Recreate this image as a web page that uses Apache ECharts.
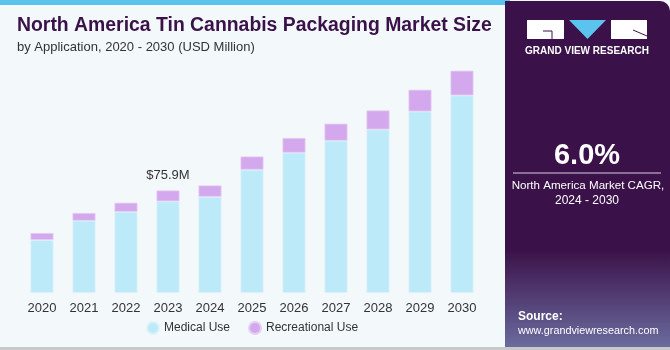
<!DOCTYPE html>
<html>
<head>
<meta charset="utf-8">
<script src="https://cdn.jsdelivr.net/npm/echarts@6/dist/echarts.min.js"></script>
<style>
  html, body { margin: 0; padding: 0; background: #f3f8fb; }
  #chart { width: 670px; height: 350px; }
</style>
</head>
<body>
<div id="chart"></div>
<script>
const years = ['2020', '2021', '2022', '2023', '2024', '2025', '2026', '2027', '2028', '2029', '2030']
const medicalUse = [39.2, 53.5, 60.1, 67.8, 71.2, 91.2, 103.8, 112.7, 121.0, 134.3, 146.2]
const recreationalUse = [5.2, 5.7, 6.7, 8.1, 8.4, 9.8, 10.9, 12.6, 14.1, 16.1, 18.3]
const labelYear = '2023'
const labelText = '$75.9M'

const purple = '#3a1249'
const chart = echarts.init(document.getElementById('chart'))

const option = {
  backgroundColor: '#f3f8fb',
  animation: false,
  textStyle: { fontFamily: 'Liberation Sans, Arial, sans-serif' },
  grid: { left: 21, right: 187, top: 60, bottom: 57 },
  legend: {
    data: ['Medical Use', 'Recreational Use'],
    bottom: 10,
    left: 141,
    icon: 'circle',
    itemWidth: 12,
    itemHeight: 12,
    itemGap: 18,
    textStyle: { fontSize: 12, color: '#333' }
  },
  xAxis: {
    type: 'category',
    data: years,
    axisLine: { show: false },
    axisTick: { show: false },
    axisLabel: { fontSize: 13, color: '#333', margin: 9 }
  },
  yAxis: {
    type: 'value',
    min: 0,
    max: 172.4,
    show: false,
    splitLine: { show: false }
  },
  series: [
    {
      name: 'Medical Use',
      type: 'bar',
      stack: 'total',
      barWidth: 23,
      itemStyle: { color: '#bdeaf9', borderColor: '#dcf3fb', borderWidth: 0.8 },
      data: medicalUse
    },
    {
      name: 'Recreational Use',
      type: 'bar',
      stack: 'total',
      barWidth: 23,
      itemStyle: { color: '#d4a8ec', borderColor: '#e6cdf5', borderWidth: 0.8 },
      label: {
        show: true,
        position: 'top',
        distance: 8,
        fontSize: 13,
        color: '#333',
        formatter: (p) => (p.name === labelYear ? labelText : '')
      },
      data: recreationalUse
    }
  ],
  graphic: [
    // top strip
    { type: 'rect', shape: { x: 0, y: 0, width: 510, height: 5 }, style: { fill: '#5bc4ee' } },
    // bottom line
    { type: 'rect', shape: { x: 0, y: 347, width: 670, height: 3 }, style: { fill: '#c8c8c8' } },
    // title
    {
      type: 'text', left: 17, top: 16,
      style: {
        text: 'North America Tin Cannabis Packaging Market Size',
        fill: purple, font: 'bold 19.4px "Liberation Sans", Arial, sans-serif'
      }
    },
    {
      type: 'text', left: 17, top: 41,
      style: {
        text: 'by Application, 2020 - 2030 (USD Million)',
        fill: '#333', font: '13px "Liberation Sans", Arial, sans-serif'
      }
    },
    // right panel
    {
      type: 'rect', shape: { x: 505, y: 1, width: 165, height: 346, r: [0, 10, 0, 0] },
      style: {
        fill: new echarts.graphic.LinearGradient(0, 0, 0, 1, [
          { offset: 0, color: purple },
          { offset: 0.72, color: purple },
          { offset: 1, color: '#6b6b9e' }
        ])
      }
    },
    // logo
    { type: 'rect', shape: { x: 527, y: 20, width: 37, height: 19 }, style: { fill: '#fff' } },
    { type: 'polyline', shape: { points: [[543, 31], [552, 31], [552, 39]] }, style: { stroke: purple, lineWidth: 1, fill: null } },
    { type: 'polygon', shape: { points: [[569, 20], [606, 20], [587.5, 39]] }, style: { fill: '#5bc4ee' } },
    { type: 'rect', shape: { x: 611, y: 20, width: 36, height: 19 }, style: { fill: '#fff' } },
    { type: 'line', shape: { x1: 633, y1: 30, x2: 647, y2: 36 }, style: { stroke: purple, lineWidth: 1 } },
    {
      type: 'text', x: 587, y: 51,
      style: {
        text: 'GRAND VIEW RESEARCH', fill: '#fff', align: 'center', verticalAlign: 'middle',
        font: 'bold 10px "Liberation Sans", Arial, sans-serif'
      }
    },
    {
      type: 'text', x: 587, y: 156,
      style: {
        text: '6.0%', fill: '#fff', align: 'center', verticalAlign: 'middle',
        font: 'bold 29px "Liberation Sans", Arial, sans-serif'
      }
    },
    { type: 'line', shape: { x1: 513, y1: 173, x2: 661, y2: 173 }, style: { stroke: '#d8cfe0', lineWidth: 1 } },
    {
      type: 'text', x: 588, y: 186,
      style: {
        text: 'North America Market CAGR,', fill: '#fff', align: 'center', verticalAlign: 'middle',
        font: '11.6px "Liberation Sans", Arial, sans-serif'
      }
    },
    {
      type: 'text', x: 587, y: 201,
      style: {
        text: '2024 - 2030', fill: '#fff', align: 'center', verticalAlign: 'middle',
        font: '12px "Liberation Sans", Arial, sans-serif'
      }
    },
    {
      type: 'text', x: 518, y: 317,
      style: {
        text: 'Source:', fill: '#fff', verticalAlign: 'middle',
        font: 'bold 12px "Liberation Sans", Arial, sans-serif'
      }
    },
    {
      type: 'text', x: 518, y: 331,
      style: {
        text: 'www.grandviewresearch.com', fill: '#fff', verticalAlign: 'middle',
        font: '10.8px "Liberation Sans", Arial, sans-serif'
      }
    }
  ]
}

chart.setOption(option)
</script>
</body>
</html>
